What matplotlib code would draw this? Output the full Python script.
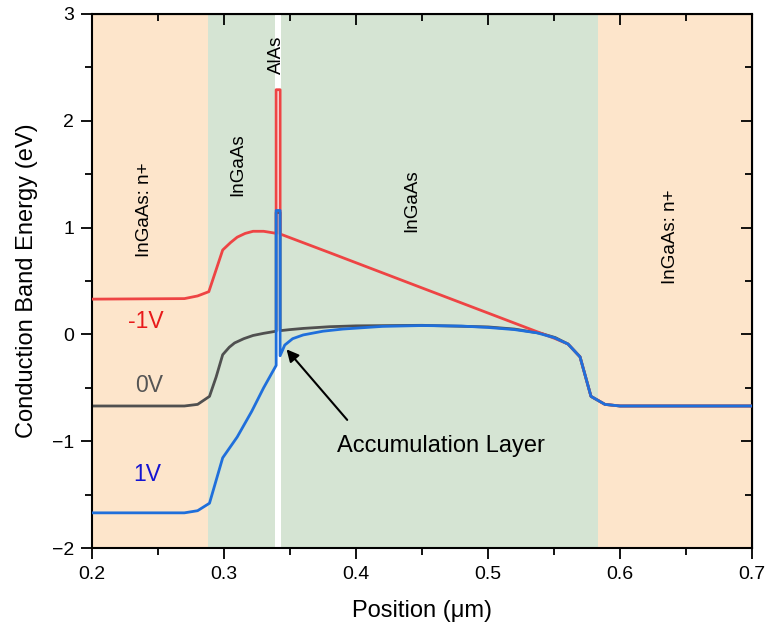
import matplotlib
matplotlib.use('Agg')
import matplotlib.pyplot as plt
from matplotlib.ticker import MultipleLocator

plt.rcParams['font.family'] = ['Liberation Sans', 'DejaVu Sans']

# Layer boundaries (um)
regions = [(0.2, 0.288, 'nplus'), (0.288, 0.583, 'ingaas'), (0.583, 0.7, 'nplus')]
barrier = (0.339, 0.343)

# Common right-hand tail (all biases merge here)
tail_x = [0.5606, 0.5697, 0.578, 0.5886, 0.60, 0.70]
tail_y = [-0.09, -0.21, -0.58, -0.655, -0.67, -0.67]

# -1V
red_x = [0.2, 0.27, 0.28, 0.2885, 0.299, 0.305, 0.310, 0.316, 0.322, 0.330, 0.3375, 0.3395,
         0.3395, 0.3425, 0.3425, 0.38, 0.45, 0.50, 0.551] + tail_x
red_y = [0.33, 0.335, 0.36, 0.40, 0.79, 0.86, 0.91, 0.945, 0.965, 0.965, 0.95, 0.945,
         2.29, 2.29, 0.94, 0.765, 0.435, 0.20, -0.04] + tail_y

# 0V
gray_x = [0.2, 0.27, 0.28, 0.289, 0.294, 0.299, 0.304, 0.308, 0.315, 0.322, 0.330, 0.3395,
          0.3395, 0.3425, 0.3425, 0.35, 0.36, 0.38, 0.40, 0.45, 0.50, 0.52, 0.54, 0.551] + tail_x
gray_y = [-0.67, -0.67, -0.655, -0.58, -0.40, -0.19, -0.12, -0.08, -0.04, -0.01, 0.01, 0.03,
          1.14, 1.14, 0.035, 0.045, 0.056, 0.072, 0.08, 0.085, 0.07, 0.05, 0.01, -0.03] + tail_y

# 1V
blue_x = [0.2, 0.27, 0.28, 0.289, 0.299, 0.310, 0.321, 0.330, 0.3395,
          0.3395, 0.3425, 0.3425, 0.346, 0.352, 0.36, 0.375, 0.39, 0.42, 0.45, 0.48, 0.50,
          0.52, 0.537, 0.55] + tail_x
blue_y = [-1.67, -1.67, -1.65, -1.58, -1.155, -0.96, -0.72, -0.50, -0.29,
          1.16, 1.16, -0.20, -0.10, -0.04, -0.005, 0.03, 0.05, 0.075, 0.083, 0.078, 0.065,
          0.045, 0.015, -0.03] + tail_y

colors = {'nplus': '#FDE5CB', 'ingaas': '#D5E4D3'}

fig = plt.figure(figsize=(7.68, 6.3), dpi=100)
ax = fig.add_axes([0.1198, 0.130, 0.8594, 0.848])

# Background layers
for x0, x1, kind in regions:
    ax.axvspan(x0, x1, color=colors[kind], lw=0, zorder=0)
ax.axvspan(barrier[0], barrier[1], color='white', lw=0, zorder=0.5)

# Band profiles
ax.plot(gray_x, gray_y, color='#505050', lw=2, zorder=2)
ax.plot(red_x, red_y, color='#EE4444', lw=2, zorder=3)
ax.plot(blue_x, blue_y, color='#1F6FDB', lw=2, zorder=4)

# Layer labels
lab = dict(rotation=90, ha='center', va='center', fontsize=13.5, color='black')
ax.text(0.240, 1.17, 'InGaAs: n+', **lab)
ax.text(0.3106, 1.59, 'InGaAs', **lab)
ax.text(0.3394, 2.62, 'AlAs', **lab)
ax.text(0.4424, 1.25, 'InGaAs', **lab)
ax.text(0.638, 0.91, 'InGaAs: n+', **lab)

# Bias labels
ax.text(0.241, 0.12, '-1V', color='#E81A1A', fontsize=16.5, ha='center', va='center')
ax.text(0.243, -0.48, '0V', color='#555555', fontsize=16.5, ha='center', va='center')
ax.text(0.242, -1.31, '1V', color='#1414D2', fontsize=16.5, ha='center', va='center')

ax.annotate('', xy=(0.346, -0.12), xytext=(0.3947, -0.82),
            arrowprops=dict(arrowstyle='-|>', color='black', lw=1.5, mutation_scale=18), zorder=5)
ax.text(0.4644, -1.045, 'Accumulation Layer', fontsize=17, ha='center', va='center')

# Axes
ax.set_xlim(0.2, 0.7)
ax.set_ylim(-2, 3)
ax.xaxis.set_major_locator(MultipleLocator(0.1))
ax.xaxis.set_minor_locator(MultipleLocator(0.05))
ax.yaxis.set_major_locator(MultipleLocator(1))
ax.yaxis.set_minor_locator(MultipleLocator(0.5))
ax.tick_params(which='both', direction='out', width=1.3, labelsize=14, pad=5)
ax.tick_params(which='major', length=8)
ax.tick_params(which='minor', length=5)
ax.xaxis.set_major_formatter(plt.FuncFormatter(lambda v, p: f'{v:.1f}'))

# Mirrored inward ticks on top / right
secx = ax.secondary_xaxis('top')
secx.xaxis.set_major_locator(MultipleLocator(0.1))
secx.xaxis.set_minor_locator(MultipleLocator(0.05))
secx.tick_params(which='both', direction='in', width=1.3, labeltop=False)
secx.tick_params(which='major', length=8)
secx.tick_params(which='minor', length=5)
secy = ax.secondary_yaxis('right')
secy.yaxis.set_major_locator(MultipleLocator(1))
secy.yaxis.set_minor_locator(MultipleLocator(0.5))
secy.tick_params(which='both', direction='in', width=1.3, labelright=False)
secy.tick_params(which='major', length=8)
secy.tick_params(which='minor', length=5)

for s in ax.spines.values():
    s.set_linewidth(1.5)

ax.set_xlabel('Position (μm)', fontsize=17, labelpad=12)
ax.set_ylabel('Conduction Band Energy (eV)', fontsize=17, labelpad=10)

fig.savefig('out.png', dpi=100)
